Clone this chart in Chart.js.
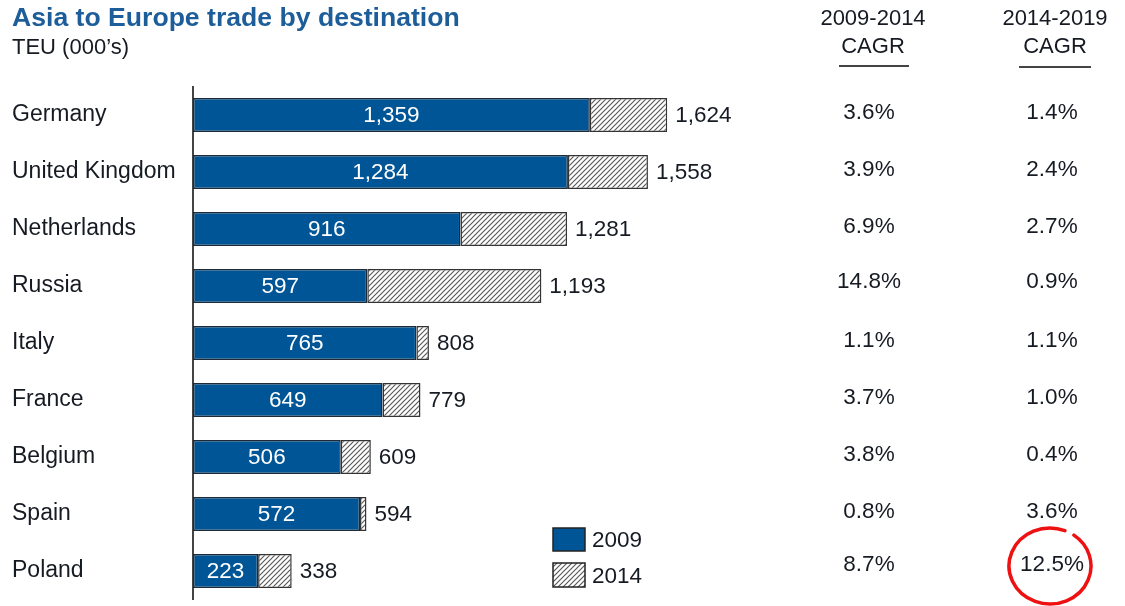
<!DOCTYPE html>
<html>
<head>
<meta charset="utf-8">
<script src="https://cdn.jsdelivr.net/npm/chart.js@4/dist/chart.umd.min.js"></script>
<style>
  html, body { margin: 0; padding: 0; background: #fff; }
</style>
</head>
<body>
<canvas id="chart" width="1125" height="606"></canvas>
<script>
const countries = ["Germany", "United Kingdom", "Netherlands", "Russia", "Italy", "France", "Belgium", "Spain", "Poland"];
const teu2009 = [1359, 1284, 916, 597, 765, 649, 506, 572, 223];
const teu2014 = [1624, 1558, 1281, 1193, 808, 779, 609, 594, 338];
const cagr2009to2014 = ["3.6%", "3.9%", "6.9%", "14.8%", "1.1%", "3.7%", "3.8%", "0.8%", "8.7%"];
const cagr2014to2019 = ["1.4%", "2.4%", "2.7%", "0.9%", "1.1%", "1.0%", "0.4%", "3.6%", "12.5%"];
const seriesNames = ["2009", "2014"];

// the 2014 bar is drawn as the increase stacked on 2009
const growth = teu2014.map((v, i) => v - teu2009[i]);

const FONT = "Liberation Sans, Arial, sans-serif";
const BLUE = "#005596";
const TEXT = "#161a22";

function makeHatch() {
  const c = document.createElement("canvas");
  c.width = 5;
  c.height = 5;
  const g = c.getContext("2d");
  g.fillStyle = "#ffffff";
  g.fillRect(0, 0, 5, 5);
  g.strokeStyle = "#5a5a5a";
  g.lineWidth = 1.2;
  g.beginPath();
  g.moveTo(-1, 6);
  g.lineTo(6, -1);
  g.moveTo(-1, 1);
  g.lineTo(1, -1);
  g.moveTo(4, 6);
  g.lineTo(6, 4);
  g.stroke();
  return g.createPattern(c, "repeat");
}
const hatch = makeHatch();

const extrasPlugin = {
  id: "extras",
  afterDraw(chart) {
    const ctx = chart.ctx;
    const yScale = chart.scales.y;
    const blueMeta = chart.getDatasetMeta(0);
    const hatchMeta = chart.getDatasetMeta(1);
    ctx.save();

    // title block
    ctx.textBaseline = "middle";
    ctx.textAlign = "left";
    ctx.fillStyle = "#1c5d9a";
    ctx.font = "bold 26.6px " + FONT;
    ctx.fillText("Asia to Europe trade by destination", 12, 19);
    ctx.fillStyle = TEXT;
    ctx.font = "22px " + FONT;
    ctx.fillText("TEU (000\u2019s)", 12, 48);

    // column headers
    ctx.textAlign = "center";
    ctx.fillText("2009-2014", 873, 19);
    ctx.fillText("CAGR", 873, 47);
    ctx.fillText("2014-2019", 1055, 19);
    ctx.fillText("CAGR", 1055, 47);
    ctx.strokeStyle = "#444";
    ctx.lineWidth = 2;
    ctx.beginPath();
    ctx.moveTo(839, 66);
    ctx.lineTo(909, 66);
    ctx.moveTo(1019, 67);
    ctx.lineTo(1091, 67);
    ctx.stroke();

    // bar labels
    ctx.font = "22.5px " + FONT;
    blueMeta.data.forEach((bar, i) => {
      ctx.fillStyle = "#ffffff";
      ctx.textAlign = "center";
      ctx.fillText(teu2009[i].toLocaleString("en-US"), (bar.x + bar.base) / 2, bar.y + 1);
      const end = hatchMeta.data[i];
      ctx.fillStyle = TEXT;
      ctx.textAlign = "left";
      ctx.fillText(teu2014[i].toLocaleString("en-US"), end.x + 8, end.y + 1);
    });

    // CAGR columns
    ctx.font = "22.5px " + FONT;
    ctx.fillStyle = TEXT;
    ctx.textAlign = "center";
    countries.forEach((c, i) => {
      const y = yScale.getPixelForValue(i) - 2 - (i === 8 ? 4 : 0) - (i === 3 ? 2 : 0);
      ctx.fillText(cagr2009to2014[i], 869, y);
      ctx.fillText(cagr2014to2019[i], 1052, y);
    });

    // legend
    ctx.font = "22.5px " + FONT;
    ctx.lineWidth = 1.5;
    ctx.strokeStyle = "#222";
    ctx.fillStyle = BLUE;
    ctx.fillRect(553, 528, 32, 23);
    ctx.strokeRect(553, 528, 32, 23);
    ctx.fillStyle = hatch;
    ctx.fillRect(553, 563, 32, 24);
    ctx.strokeRect(553, 563, 32, 24);
    ctx.fillStyle = TEXT;
    ctx.textAlign = "left";
    ctx.fillText(seriesNames[0], 592, 541);
    ctx.fillText(seriesNames[1], 592, 577);

    // hand drawn red circle
    ctx.strokeStyle = "#ee1111";
    ctx.lineWidth = 3.5;
    ctx.lineCap = "round";
    ctx.beginPath();
    ctx.ellipse(1050, 566, 41, 38, 0, -1.2, -1.2 - Math.PI * 1.92, true);
    ctx.stroke();
    ctx.restore();
  },
};

new Chart(document.getElementById("chart"), {
  type: "bar",
  data: {
    labels: countries,
    datasets: [
      {
        label: seriesNames[0],
        data: teu2009,
        backgroundColor: BLUE,
        borderColor: "#1d2a38",
        borderWidth: 1.5,
        borderSkipped: false,
        barPercentage: 0.6,
        categoryPercentage: 1,
      },
      {
        label: seriesNames[1],
        data: growth,
        backgroundColor: hatch,
        borderColor: "#333",
        borderWidth: 1.5,
        borderSkipped: false,
        barPercentage: 0.6,
        categoryPercentage: 1,
      },
    ],
  },
  options: {
    indexAxis: "y",
    responsive: false,
    animation: false,
    layout: { padding: { left: 12, right: 348, top: 86.5, bottom: 6.5 } },
    scales: {
      x: { display: false, stacked: true, min: 0, max: 2000 },
      y: {
        stacked: true,
        afterFit(scale) {
          scale.width = 181;
          scale.paddingTop = 0;
          scale.paddingBottom = 0;
        },
        grid: { display: false },
        border: { display: true, color: "#444", width: 2 },
        ticks: {
          crossAlign: "far",
          padding: 0,
          color: TEXT,
          font: { family: FONT, size: 23 },
        },
      },
    },
    plugins: {
      legend: { display: false },
      tooltip: { enabled: false },
    },
  },
  plugins: [extrasPlugin],
});
</script>
</body>
</html>
